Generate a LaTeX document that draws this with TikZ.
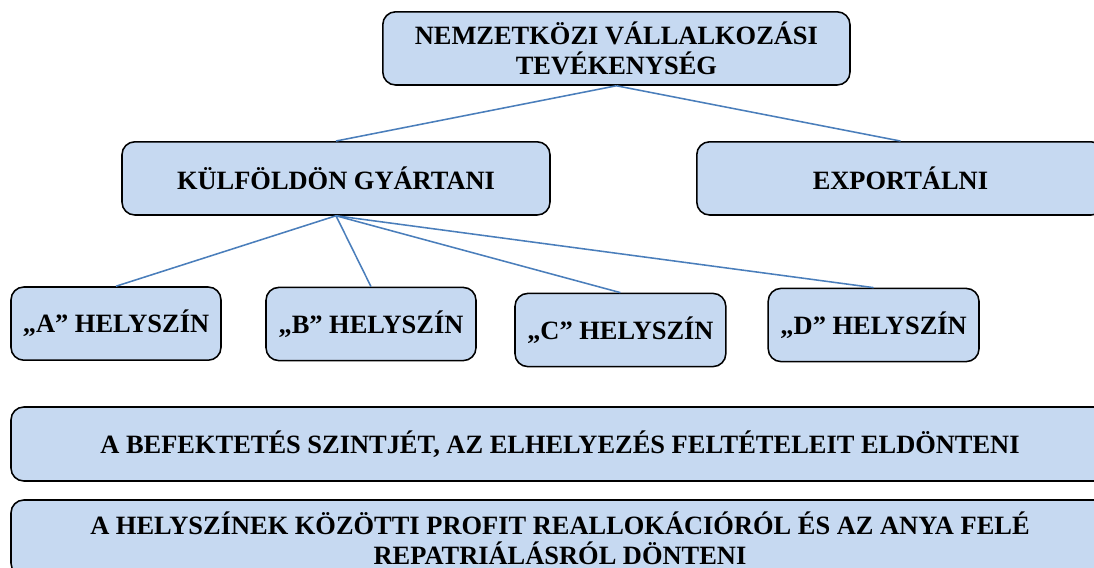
\documentclass[tikz,border=0pt]{standalone}
\usepackage{fontspec}
\setmainfont{Liberation Serif}
\usepackage{xcolor}
\usetikzlibrary{positioning}

\definecolor{boxFill}{HTML}{C6D9F1}
\definecolor{lineBlue}{HTML}{4A7EBB}

\begin{document}
\begin{tikzpicture}[
    myBox/.style={draw=black, fill=boxFill, line width=1.1pt, rounded corners=0.32cm,
        minimum height=1.83cm, inner sep=2pt, align=center,
        font=\fontsize{18.8}{21.5}\selectfont\bfseries},
    myLine/.style={draw=lineBlue, line width=1.1pt}
]

\useasboundingbox (0,0) rectangle (27.35,-14.2);
\clip (0,0) rectangle (27.35,-14.2);

% top level
\node[myBox, minimum width=11.68cm] (nemz) at (15.41,-1.21)
{NEMZETKÖZI VÁLLALKOZÁSI\\TEVÉKENYSÉG};

% second level
\node[myBox, minimum width=10.7cm] (kulf) at (8.40,-4.46) {KÜLFÖLDÖN GYÁRTANI};
\node[myBox, minimum width=10.18cm] (export) at (22.51,-4.46) {EXPORTÁLNI};

% helyszinek
\node[myBox, minimum width=5.25cm] (helyA) at (2.90,-8.09) {„A” HELYSZÍN};
\node[myBox, minimum width=5.25cm] (helyB) at (9.275,-8.10) {„B” HELYSZÍN};
\node[myBox, minimum width=5.27cm] (helyC) at (15.51,-8.25) {„C” HELYSZÍN};
\node[myBox, minimum width=5.27cm] (helyD) at (21.84,-8.125) {„D” HELYSZÍN};

% bottom
\node[myBox, minimum width=27.45cm, minimum height=1.85cm] (befekt) at (14.0,-11.1)
{A BEFEKTETÉS SZINTJÉT, AZ ELHELYEZÉS FELTÉTELEIT ELDÖNTENI};
\node[myBox, minimum width=27.45cm, minimum height=1.9cm] (profit) at (14.0,-13.45)
{A HELYSZÍNEK KÖZÖTTI PROFIT REALLOKÁCIÓRÓL ÉS AZ ANYA FELÉ\\REPATRIÁLÁSRÓL DÖNTENI};

% connectors
\draw[myLine] (nemz.south) -- (kulf.north);
\draw[myLine] (nemz.south) -- (export.north);

\foreach \h in {helyA,helyB,helyC,helyD}
\draw[myLine] (kulf.south) -- (\h.north);

\end{tikzpicture}
\end{document}
